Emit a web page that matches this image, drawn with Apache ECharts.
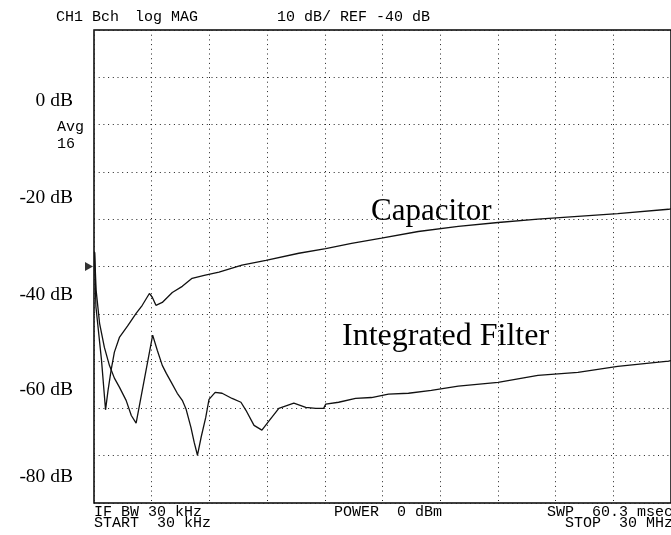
<!DOCTYPE html>
<html>
<head>
<meta charset="utf-8">
<script src="https://cdn.jsdelivr.net/npm/echarts@6/dist/echarts.min.js"></script>
<style>
  html, body { margin: 0; padding: 0; background: #fff; }
  #chart { width: 671px; height: 535px; }
</style>
</head>
<body>
<div id="chart"></div>
<script>
// frequency in MHz (linear sweep 30 kHz .. 30 MHz), level in dB
var capFreq = [0.03, 0.10, 0.39, 0.60, 0.73, 0.89, 1.06, 1.32, 1.74, 2.19, 2.51, 2.88, 3.03, 3.22, 3.55,
  4.07, 4.59, 5.10, 5.73, 6.50, 7.69, 8.94, 10.65, 12.05, 13.39, 14.95, 16.86, 18.94, 21.01, 23.08,
  25.16, 27.23, 29.87, 30.0];
var capDb = [-37.0, -48.5, -59.8, -70.3, -66.2, -61.9, -58.1, -55.0, -52.6, -49.9, -48.2, -45.7, -46.5, -48.2, -47.6,
  -45.5, -44.2, -42.5, -41.9, -41.2, -39.7, -38.7, -37.2, -36.2, -35.1, -34.0, -32.6, -31.5, -30.7, -30.0,
  -29.4, -28.8, -27.9, -27.8];

var filtFreq = [0.03, 0.11, 0.29, 0.54, 0.80, 1.06, 1.32, 1.67, 1.94, 2.19, 3.05, 3.29, 3.55, 3.76, 4.02,
  4.33, 4.59, 4.79, 5.04, 5.21, 5.38, 5.57, 5.81, 5.98, 6.30, 6.66, 7.18, 7.64, 7.90, 8.32,
  8.73, 9.09, 9.61, 10.39, 11.01, 11.53, 11.94, 12.05, 12.72, 13.60, 14.43, 15.31, 16.35, 17.54, 18.94,
  21.01, 23.08, 25.16, 27.23, 29.87, 30.0];
var filtDb = [-37.0, -45.0, -52.0, -57.1, -60.9, -63.6, -65.5, -68.3, -71.5, -73.1, -54.5, -57.7, -60.9, -62.6, -64.5,
  -66.8, -68.3, -70.2, -74.0, -77.2, -79.9, -76.1, -71.9, -68.1, -66.6, -66.8, -67.9, -68.7, -70.4, -73.6,
  -74.6, -72.7, -70.0, -68.9, -69.8, -70.0, -70.0, -69.1, -68.7, -67.9, -67.7, -67.0, -66.8, -66.2, -65.3,
  -64.5, -63.0, -62.4, -61.1, -60.0, -59.9];

var refLevel = -40;
var yLabels = ['0 dB', '-20 dB', '-40 dB', '-60 dB', '-80 dB'];

function pairs(xs, ys) {
  return xs.map(function (x, i) { return [x, ys[i]]; });
}

var mono = '15px "Liberation Mono", "DejaVu Sans Mono", monospace';
var serif = '"Liberation Serif", "Times New Roman", serif';

function monoText(str, x, y) {
  return { type: 'text', x: x, y: y, silent: true,
    style: { text: str, font: mono, fill: '#000', align: 'left', verticalAlign: 'middle' } };
}

var labelTops = [100.5, 197.5, 294.5, 390, 476.5];
var graphics = [
  monoText('CH1 Bch', 56, 17),
  monoText('log MAG', 135, 17),
  monoText('10 dB/ REF -40 dB', 277, 17),
  monoText('Avg', 57, 127),
  monoText('16', 57, 144),
  monoText('IF BW 30 kHz', 94, 512),
  monoText('START  30 kHz', 94, 523.5),
  monoText('POWER  0 dBm', 334, 512),
  monoText('SWP  60.3 msec', 547, 512),
  monoText('STOP  30 MHz', 565, 523.5),
  { type: 'text', x: 371, y: 212, silent: true,
    style: { text: 'Capacitor', font: '31px ' + serif, fill: '#000', align: 'left', verticalAlign: 'middle' } },
  { type: 'text', x: 342, y: 337, silent: true,
    style: { text: 'Integrated Filter', font: '32px ' + serif, fill: '#000', align: 'left', verticalAlign: 'middle' } }
];
yLabels.forEach(function (t, i) {
  graphics.push({ type: 'text', x: 73, y: labelTops[i], silent: true,
    style: { text: t, font: '19.5px ' + serif, fill: '#000', align: 'right', verticalAlign: 'middle' } });
});

var chart = echarts.init(document.getElementById('chart'));
chart.setOption({
  animation: false,
  backgroundColor: '#fff',
  grid: { left: 94, top: 30, width: 580, height: 473, show: true, borderColor: '#000', borderWidth: 1.5 },
  xAxis: {
    type: 'value', min: 0, max: 30, interval: 3,
    axisLine: { show: false }, axisTick: { show: false }, axisLabel: { show: false },
    splitLine: { show: true, lineStyle: { color: '#222', width: 1, type: [1, 3.7] } }
  },
  yAxis: {
    type: 'value', min: -90, max: 10, interval: 10,
    axisLine: { show: false }, axisTick: { show: false }, axisLabel: { show: false },
    splitLine: { show: true, lineStyle: { color: '#222', width: 1, type: [1, 3.7] } }
  },
  graphic: graphics,
  series: [
    { name: 'Capacitor', type: 'line', data: pairs(capFreq, capDb), showSymbol: false,
      lineStyle: { color: '#111', width: 1.3 }, z: 3 },
    { name: 'Integrated Filter', type: 'line', data: pairs(filtFreq, filtDb), showSymbol: false,
      lineStyle: { color: '#111', width: 1.3 }, z: 3 },
    { name: 'REF', type: 'scatter', data: [[0, refLevel]], clip: false, symbol: 'triangle',
      symbolSize: [9, 8], symbolRotate: -90, symbolOffset: [-5, 0],
      itemStyle: { color: '#000' }, z: 4 }
  ]
});
</script>
</body>
</html>
